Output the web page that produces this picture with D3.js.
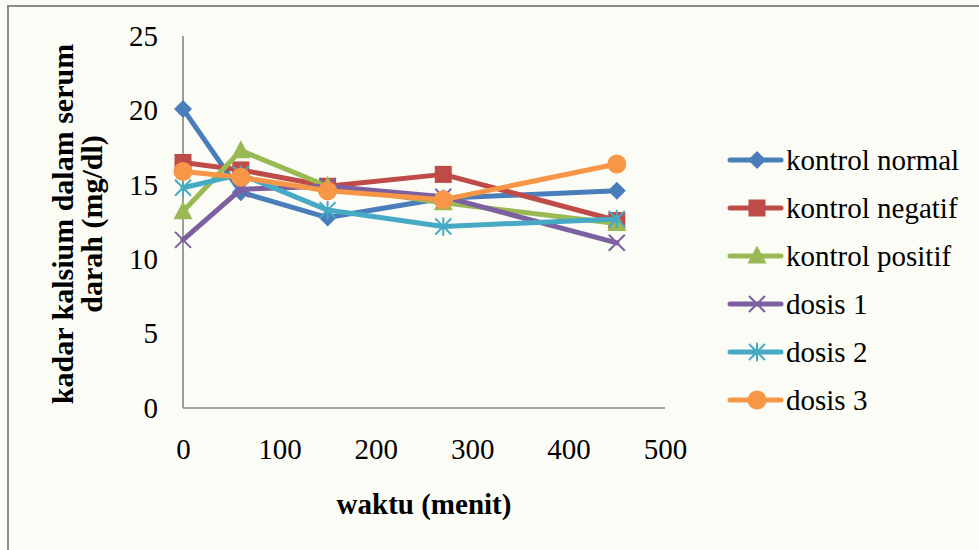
<!DOCTYPE html>
<html>
<head>
<meta charset="utf-8">
<script src="https://cdn.jsdelivr.net/npm/d3@7"></script>
<style>
  html, body { margin: 0; padding: 0; background: #fcfcf6; }
  svg { display: block; }
</style>
</head>
<body>
<svg id="chart" width="979" height="550"></svg>
<script>
// Sampling times (minutes)
const times = [0, 60, 150, 270, 450];

// Serum calcium (mg/dl) per group
const kontrolNormal  = [20.1, 14.5, 12.8, 14.1, 14.6];
const kontrolNegatif = [16.5, 16.0, 14.9, 15.7, 12.6];
const kontrolPositif = [13.2, 17.3, 14.9, 13.8, 12.4];
const dosis1         = [11.3, 14.7, 14.9, 14.2, 11.1];
const dosis2         = [14.8, 15.7, 13.3, 12.2, 12.7];
const dosis3         = [15.9, 15.5, 14.6, 14.0, 16.4];

const seriesNames = ["kontrol normal", "kontrol negatif", "kontrol positif", "dosis 1", "dosis 2", "dosis 3"];
const xTicks = [0, 100, 200, 300, 400, 500];
const yTicks = [0, 5, 10, 15, 20, 25];

const series = [
  { name: seriesNames[0], values: kontrolNormal,  color: "#4a7ebb", marker: "diamond" },
  { name: seriesNames[1], values: kontrolNegatif, color: "#be4b48", marker: "square" },
  { name: seriesNames[2], values: kontrolPositif, color: "#98b954", marker: "triangle" },
  { name: seriesNames[3], values: dosis1,         color: "#7d60a0", marker: "x" },
  { name: seriesNames[4], values: dosis2,         color: "#46aac5", marker: "star" },
  { name: seriesNames[5], values: dosis3,         color: "#f79646", marker: "circle" }
];

const svg = d3.select("#chart");
const serif = "'Liberation Serif', 'Times New Roman', serif";

// outer frame
svg.append("rect")
  .attr("x", 8).attr("y", 6).attr("width", 1000).attr("height", 600)
  .attr("fill", "#fcfcf6").attr("stroke", "#8c8c8c").attr("stroke-width", 2);

const x = d3.scaleLinear().domain([0, 500]).range([183, 665]);
const y = d3.scaleLinear().domain([0, 25]).range([408, 36]);

// axes
const yAxis = svg.append("g").attr("transform", "translate(183,0)")
  .call(d3.axisLeft(y).tickValues(yTicks).tickSize(0).tickPadding(25).tickFormat(d3.format("d")));
const xAxis = svg.append("g").attr("transform", "translate(0,408)")
  .call(d3.axisBottom(x).tickValues(xTicks).tickSize(0).tickPadding(30).tickFormat(d3.format("d")));
[yAxis, xAxis].forEach(g => {
  g.select(".domain").attr("stroke", "#868686").attr("stroke-width", 1.6);
  g.selectAll("text").attr("font-family", serif).attr("font-size", 29).attr("fill", "#000");
});
yAxis.select(".domain").attr("d", `M0,${y(25)}V${y(0)}`);
xAxis.select(".domain").attr("d", `M${x(0)},0H${x(500)}`);

// axis titles
svg.append("text")
  .attr("x", 424).attr("y", 514).attr("text-anchor", "middle")
  .attr("font-family", serif).attr("font-weight", "bold").attr("font-size", 29)
  .text("waktu (menit)");
const yt = svg.append("text")
  .attr("transform", "translate(0,224) rotate(-90)")
  .attr("text-anchor", "middle")
  .attr("font-family", serif).attr("font-weight", "bold").attr("font-size", 30);
yt.append("tspan").attr("x", 0).attr("y", 73).text("kadar kalsium dalam serum");
yt.append("tspan").attr("x", 0).attr("y", 102).text("darah (mg/dl)");

// marker drawing
function drawMarker(g, type, color, cx, cy) {
  if (type === "diamond") {
    const r = 9;
    g.append("path").attr("d", `M${cx},${cy - r}L${cx + r},${cy}L${cx},${cy + r}L${cx - r},${cy}Z`).attr("fill", color);
  } else if (type === "square") {
    const r = 8.5;
    g.append("rect").attr("x", cx - r).attr("y", cy - r).attr("width", 2 * r).attr("height", 2 * r).attr("fill", color);
  } else if (type === "triangle") {
    const r = 9.5;
    g.append("path").attr("d", `M${cx},${cy - r * 1.1}L${cx + r},${cy + r * 0.8}L${cx - r},${cy + r * 0.8}Z`).attr("fill", color);
  } else if (type === "x") {
    const r = 8;
    g.append("path").attr("d", `M${cx - r},${cy - r}L${cx + r},${cy + r}M${cx - r},${cy + r}L${cx + r},${cy - r}`)
      .attr("stroke", color).attr("stroke-width", 2).attr("fill", "none");
  } else if (type === "star") {
    const r = 8;
    g.append("path").attr("d", `M${cx - r},${cy - r}L${cx + r},${cy + r}M${cx - r},${cy + r}L${cx + r},${cy - r}M${cx},${cy - r * 1.15}L${cx},${cy + r * 1.15}`)
      .attr("stroke", color).attr("stroke-width", 2).attr("fill", "none");
  } else if (type === "circle") {
    g.append("circle").attr("cx", cx).attr("cy", cy).attr("r", 9.5).attr("fill", color);
  }
}

const line = d3.line().x(d => x(d[0])).y(d => y(d[1]));
const plot = svg.append("g");
series.forEach(s => {
  const g = plot.append("g");
  const pts = times.map((t, i) => [t, s.values[i]]);
  g.append("path").datum(pts).attr("d", line)
    .attr("fill", "none").attr("stroke", s.color).attr("stroke-width", 5)
    .attr("stroke-linejoin", "round").attr("stroke-linecap", "round");
  pts.forEach(p => drawMarker(g, s.marker, s.color, x(p[0]), y(p[1])));
});

// legend
const legend = svg.append("g");
series.forEach((s, i) => {
  const ly = 160 + i * 48;
  const g = legend.append("g");
  g.append("line").attr("x1", 730).attr("x2", 781).attr("y1", ly).attr("y2", ly)
    .attr("stroke", s.color).attr("stroke-width", 5).attr("stroke-linecap", "round");
  drawMarker(g, s.marker, s.color, 757, ly);
  g.append("text").attr("x", 786).attr("y", ly + 10)
    .attr("font-family", serif).attr("font-size", 29).attr("fill", "#000").text(s.name);
});
</script>
</body>
</html>
